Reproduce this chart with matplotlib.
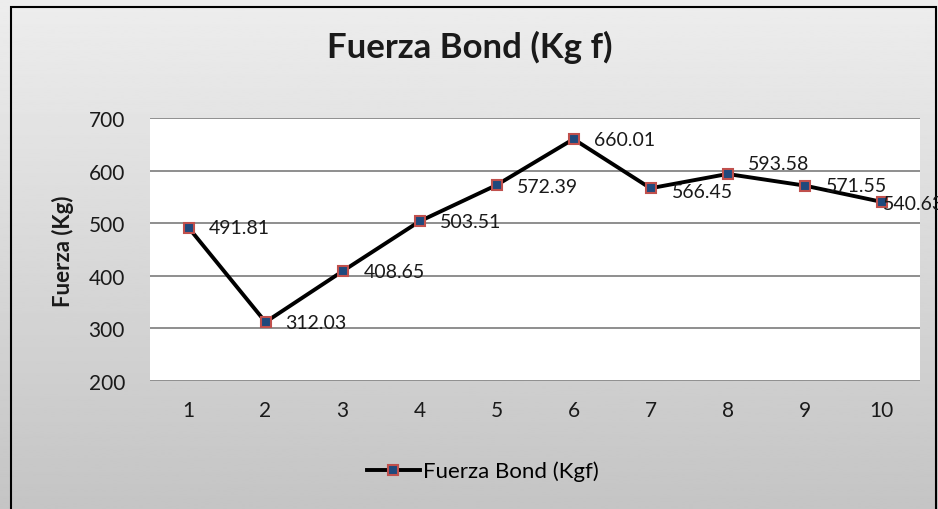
import numpy as np
import matplotlib.pyplot as plt
from matplotlib.patches import Rectangle

# Data
muestras = [1, 2, 3, 4, 5, 6, 7, 8, 9, 10]
fuerza = [491.81, 312.03, 408.65, 503.51, 572.39, 660.01, 566.45, 593.58, 571.55, 540.63]
etiquetas = ['491.81', '312.03', '408.65', '503.51', '572.39',
             '660.01', '566.45', '593.58', '571.55', '540.63']

# label offsets in pixels (dx, dy), like the Excel data labels
label_offsets = [(20, 0), (20, 0), (21, 0), (20, 0), (20, -1),
                 (20, 0), (21, -3), (20, 10), (21, 0), (1, -2)]

plt.rcParams['font.family'] = ['Lato', 'DejaVu Sans']

W, H = 938, 510
fig = plt.figure(figsize=(W / 100, H / 100), dpi=100)

# gray gradient background
bg = fig.add_axes([0, 0, 1, 1], zorder=0)
grad = np.linspace(0.93, 0.77, 256).reshape(-1, 1)
bg.imshow(grad, aspect='auto', cmap='gray', vmin=0, vmax=1, extent=[0, 1, 0, 1])
bg.add_patch(Rectangle((10.5 / W, -0.05), (936 - 10.5) / W, 1.05 - 7.5 / H,
                       fill=False, edgecolor='black', linewidth=1.5,
                       transform=bg.transAxes))
bg.set_xlim(0, 1)
bg.set_ylim(0, 1)
bg.axis('off')

# plot area
left, right, top, bottom = 150, 920, 119, 382
ax = fig.add_axes([left / W, 1 - bottom / H, (right - left) / W, (bottom - top) / H], zorder=1)
ax.set_facecolor('white')

x = np.arange(len(muestras))
ax.plot(x, fuerza, color='black', linewidth=2.8, marker='s', markersize=6.5,
        markerfacecolor='#1f497d', markeredgecolor='#c0504d', markeredgewidth=1.5,
        label='Fuerza Bond (Kgf)', zorder=3)

for xi, yi, txt, (dx, dy) in zip(x, fuerza, etiquetas, label_offsets):
    ax.annotate(txt, (xi, yi), xytext=(dx * 0.72, dy * 0.72), textcoords='offset points',
                ha='left', va='center', fontsize=14, color='#1a1a1a',
                annotation_clip=False, zorder=4)

ax.set_xlim(-0.5, len(muestras) - 0.5)
ax.set_ylim(200, 700)
ax.set_yticks(range(200, 701, 100))
ax.set_xticks(x)
ax.set_xticklabels([str(m) for m in muestras])
ax.grid(axis='y', color='#868686', linewidth=1.3)
ax.set_axisbelow(True)
for s in ax.spines.values():
    s.set_visible(False)
ax.tick_params(axis='both', length=0, labelsize=15, colors='#1a1a1a')
ax.tick_params(axis='y', pad=18)
ax.tick_params(axis='x', pad=14)

fig.text(63 / W, 1 - 251 / H, 'Fuerza (Kg)', rotation=90, ha='center', va='center',
         fontsize=16, fontweight='bold', color='#1a1a1a')

fig.text(470 / W, 1 - 47 / H, 'Fuerza Bond (Kg f)', ha='center', va='center',
         fontsize=25, fontweight='bold', color='#1a1a1a')

leg = fig.legend(loc='center', bbox_to_anchor=(483 / W, 1 - 472 / H), frameon=False,
                 fontsize=16, handlelength=2.4, handletextpad=0.15)

fig.savefig('out.png', dpi=100)
